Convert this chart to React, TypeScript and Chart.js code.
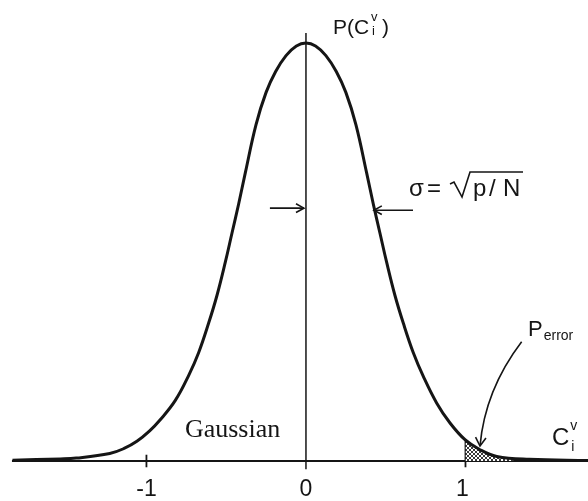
import React, { useEffect, useRef } from "react";
import { Chart, registerables } from "chart.js";

Chart.register(...registerables);

// Gaussian curve (x in units of the axis, y relative to the peak)
const curveX = [
  -1.84, -1.54, -1.44, -1.23, -1.14, -1.06, -0.98, -0.915, -0.819, -0.735, -0.673, -0.61,
  -0.558, -0.506, -0.464, -0.422, -0.38, -0.313, -0.25, -0.19, -0.125, -0.06, 0, 0.06, 0.125,
  0.19, 0.25, 0.313, 0.38, 0.422, 0.464, 0.506, 0.558, 0.61, 0.673, 0.735, 0.819, 0.903,
  0.997, 1.091, 1.196, 1.4, 1.77,
];
const curveY = [
  0.002, 0.005, 0.007, 0.018, 0.03, 0.047, 0.072, 0.098, 0.145, 0.205, 0.259, 0.33,
  0.396, 0.475, 0.545, 0.615, 0.69, 0.805, 0.882, 0.932, 0.97, 0.993, 1.0, 0.993, 0.97,
  0.932, 0.882, 0.805, 0.69, 0.615, 0.545, 0.475, 0.396, 0.33, 0.259, 0.203, 0.139, 0.091,
  0.051, 0.027, 0.011, 0.004, 0.001,
];

// Shaded error tail
const shadeX = [1.0, 1.091, 1.196, 1.3];
const shadeY = [0.05, 0.027, 0.011, 0.006];

// Axis ticks
const tickValues = [-1, 0, 1];
const tickLabels = ["-1", "0", "1"];

const xMin = -1.918;
const xMax = 1.768;
const yMin = -0.0957;
const yMax = 1.103;
const axisStart = -1.843;

export default function App() {
  const ref = useRef<HTMLCanvasElement>(null);

  useEffect(() => {
    const canvas = ref.current!;
    const pat = document.createElement("canvas");
    pat.width = 4;
    pat.height = 4;
    const pc = pat.getContext("2d")!;
    pc.fillStyle = "#ffffff";
    pc.fillRect(0, 0, 4, 4);
    pc.fillStyle = "#3a3a3a";
    for (let i = 0; i < 4; i++) {
      pc.fillRect(i, i, 1, 1);
      pc.fillRect(3 - i, i, 1, 1);
    }
    const pattern = canvas.getContext("2d")!.createPattern(pat, "repeat");

    const ink = "#151515";

    const arrowHead = (ctx: CanvasRenderingContext2D, tx: number, ty: number, ang: number, len = 9, spread = 0.5) => {
      ctx.beginPath();
      ctx.moveTo(tx - len * Math.cos(ang - spread), ty - len * Math.sin(ang - spread));
      ctx.lineTo(tx, ty);
      ctx.lineTo(tx - len * Math.cos(ang + spread), ty - len * Math.sin(ang + spread));
      ctx.stroke();
    };

    const decor = {
      id: "decor",
      beforeDatasetsDraw(chart: any) {
        const { ctx, scales } = chart;
        const X = (v: number) => scales.x.getPixelForValue(v);
        const Y = (v: number) => scales.y.getPixelForValue(v);
        ctx.save();
        ctx.strokeStyle = ink;
        // x axis
        ctx.lineWidth = 2;
        ctx.beginPath();
        ctx.moveTo(X(axisStart), Y(0));
        ctx.lineTo(X(xMax), Y(0));
        ctx.stroke();
        // y axis (vertical line through 0)
        ctx.lineWidth = 1.5;
        ctx.beginPath();
        ctx.moveTo(X(0), Y(-0.02));
        ctx.lineTo(X(0), Y(1.024));
        ctx.stroke();
        // ticks
        ctx.lineWidth = 1.8;
        tickValues.forEach((t) => {
          if (t === 0) return;
          ctx.beginPath();
          ctx.moveTo(X(t), Y(-0.015));
          ctx.lineTo(X(t), Y(t === 1 ? shadeY[0] : 0.015));
          ctx.stroke();
        });
        ctx.restore();
      },
      afterDatasetsDraw(chart: any) {
        const { ctx, scales } = chart;
        const X = (v: number) => scales.x.getPixelForValue(v);
        const Y = (v: number) => scales.y.getPixelForValue(v);
        ctx.save();
        ctx.fillStyle = ink;
        ctx.strokeStyle = ink;
        ctx.textBaseline = "alphabetic";

        // tick labels
        ctx.font = '23px "Liberation Sans", Arial, sans-serif';
        ctx.textAlign = "center";
        tickValues.forEach((t, i) => {
          ctx.fillText(tickLabels[i], X(t) - (t === 1 ? 3 : 0), Y(-0.084));
        });
        ctx.textAlign = "left";

        // P(C_i^v) at top
        {
          const x0 = X(0.169);
          const y0 = Y(1.0215);
          ctx.font = '21px "Liberation Sans", Arial, sans-serif';
          ctx.fillText("P(C", x0, y0);
          const w = ctx.measureText("P(C").width;
          ctx.font = '13px "Liberation Sans", Arial, sans-serif';
          ctx.fillText("v", x0 + w + 2, y0 - 13);
          ctx.fillText("i", x0 + w + 3, y0 + 1);
          ctx.font = '21px "Liberation Sans", Arial, sans-serif';
          ctx.fillText(")", x0 + w + 13, y0);
        }

        // sigma = sqrt(p/N)
        {
          const x0 = X(0.646);
          const y0 = Y(0.634);
          ctx.font = '24px "Liberation Sans", Arial, sans-serif';
          ctx.fillText("σ", x0, y0);
          ctx.fillText("=", x0 + 18, y0);
          ctx.fillText("p", x0 + 64, y0);
          ctx.fillText("/", x0 + 80, y0);
          ctx.fillText("N", x0 + 94, y0);
          ctx.lineWidth = 1.6;
          ctx.beginPath();
          ctx.moveTo(x0 + 41, y0 - 12);
          ctx.lineTo(x0 + 45, y0 - 14);
          ctx.lineTo(x0 + 53, y0 + 1);
          ctx.lineTo(x0 + 61, y0 - 24);
          ctx.lineTo(x0 + 114, y0 - 24);
          ctx.stroke();
        }

        // width arrows
        ctx.lineWidth = 1.6;
        {
          const yA = Y(0.605);
          ctx.beginPath();
          ctx.moveTo(X(-0.226), yA);
          ctx.lineTo(X(-0.013), yA);
          ctx.stroke();
          arrowHead(ctx, X(-0.013), yA, 0);
          const yB = Y(0.6);
          ctx.beginPath();
          ctx.moveTo(X(0.671), yB);
          ctx.lineTo(X(0.426), yB);
          ctx.stroke();
          arrowHead(ctx, X(0.426), yB, Math.PI);
        }

        // Gaussian
        ctx.font = '26px "Liberation Serif", "Times New Roman", serif';
        ctx.fillText("Gaussian", X(-0.759), Y(0.0574));

        // P_error
        {
          const x0 = X(1.392);
          const y0 = Y(0.299);
          ctx.font = '22px "Liberation Sans", Arial, sans-serif';
          ctx.fillText("P", x0, y0);
          const w = ctx.measureText("P").width;
          ctx.font = '14px "Liberation Sans", Arial, sans-serif';
          ctx.fillText("error", x0 + w + 1, y0 + 4);
        }

        // curved arrow to tail
        {
          const sx = X(1.352), sy = Y(0.2854);
          const cx = X(1.122), cy = Y(0.17);
          const ex = X(1.091), ey = Y(0.0359);
          ctx.lineWidth = 1.6;
          ctx.beginPath();
          ctx.moveTo(sx, sy);
          ctx.quadraticCurveTo(cx, cy, ex, ey);
          ctx.stroke();
          arrowHead(ctx, ex, ey, Math.atan2(ey - cy, ex - cx), 10, 0.55);
        }

        // C_i^v at the right
        {
          const x0 = X(1.542);
          const y0 = Y(0.038);
          ctx.font = '24px "Liberation Sans", Arial, sans-serif';
          ctx.fillText("C", x0, y0);
          const w = ctx.measureText("C").width;
          ctx.font = '14px "Liberation Sans", Arial, sans-serif';
          ctx.fillText("v", x0 + w + 1, y0 - 15);
          ctx.fillText("i", x0 + w + 2, y0 + 6);
        }

        ctx.restore();
      },
    };

    const chart = new Chart(canvas, {
      type: "line",
      data: {
        datasets: [
          {
            data: curveX.map((x, i) => ({ x, y: curveY[i] })),
            borderColor: ink,
            borderWidth: 3,
            pointRadius: 0,
            tension: 0.4,
            fill: false,
            order: 0,
          },
          {
            data: shadeX.map((x, i) => ({ x, y: shadeY[i] })),
            borderWidth: 0,
            borderColor: "rgba(0,0,0,0)",
            backgroundColor: pattern as any,
            pointRadius: 0,
            tension: 0.4,
            fill: "origin",
            order: 1,
          },
        ],
      },
      options: {
        animation: false,
        responsive: false,
        maintainAspectRatio: false,
        layout: { padding: 0 },
        plugins: { legend: { display: false }, tooltip: { enabled: false } },
        events: [],
        scales: {
          x: { type: "linear", min: xMin, max: xMax, display: false },
          y: { type: "linear", min: yMin, max: yMax, display: false },
        },
      },
      plugins: [decor],
    });
    return () => chart.destroy();
  }, []);

  return (
    <div style={{ position: "fixed", left: 0, top: 0, width: 588, height: 501, background: "#fff" }}>
      <canvas ref={ref} width={588} height={501} style={{ display: "block" }} />
    </div>
  );
}
